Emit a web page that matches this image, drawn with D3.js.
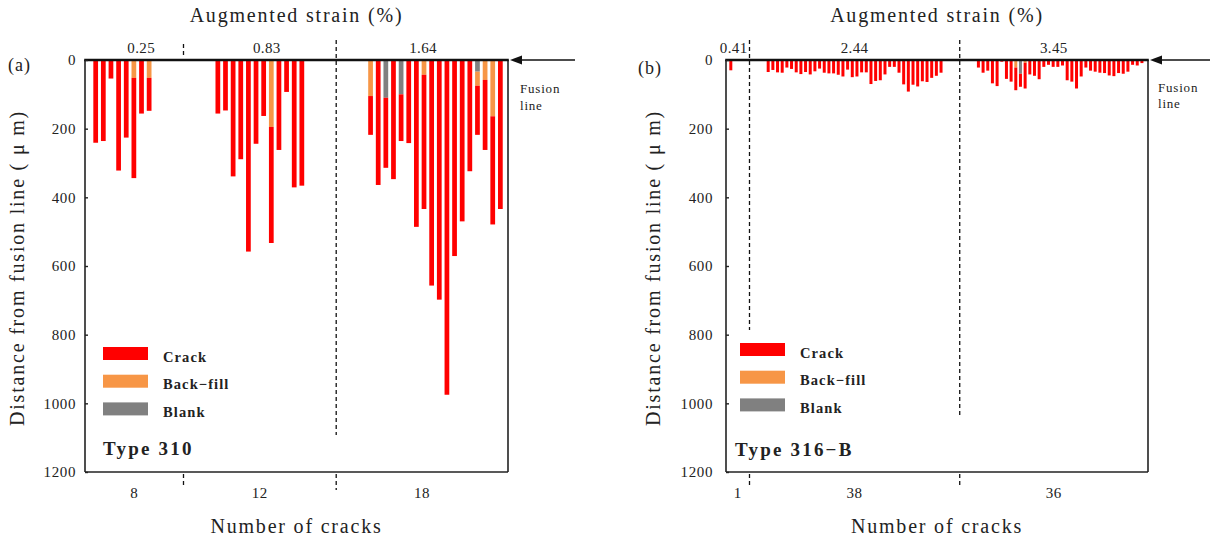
<!DOCTYPE html>
<html>
<head>
<meta charset="utf-8">
<script src="https://cdn.jsdelivr.net/npm/d3@7"></script>
<style>
  html, body { margin: 0; padding: 0; background: #fff; }
  svg { display: block; }
  text { font-family: "Liberation Serif", "DejaVu Serif", serif; fill: #222; }
</style>
</head>
<body>
<svg id="chart" width="1212" height="540"></svg>
<script>
// ---------------- DATA ----------------
const seriesNames = ["Crack", "Back\u2212fill", "Blank"];
const yTickValues = [0, 200, 400, 600, 800, 1000, 1200];

// Panel (a) Type 310
const strainA = ["0.25", "0.83", "1.64"];
const countA = ["8", "12", "18"];
// lengths (µm) of each segment, per group; stacked from fusion line: blank, back-fill, crack
const blankA = [
  [0, 0, 0, 0, 0, 0, 0, 0],
  [0, 0, 0, 0, 0, 0, 0, 0, 0, 0, 0, 0],
  [0, 0, 110, 0, 100, 0, 0, 0, 0, 0, 0, 0, 0, 0, 34, 0, 0, 0]
];
const backfillA = [
  [0, 0, 0, 0, 0, 52, 0, 52],
  [0, 0, 0, 0, 0, 0, 0, 195, 0, 0, 0, 0],
  [105, 0, 0, 0, 0, 0, 0, 43, 0, 0, 0, 0, 0, 0, 41, 58, 164, 0]
];
const crackA = [
  [241, 236, 54, 322, 226, 292, 156, 96],
  [156, 147, 339, 289, 558, 244, 163, 338, 262, 93, 371, 366],
  [113, 364, 204, 347, 136, 242, 486, 391, 657, 698, 975, 571, 470, 324, 143, 204, 315, 434]
];

// Panel (b) Type 316-B
const strainB = ["0.41", "2.44", "3.45"];
const countB = ["1", "38", "36"];
const blankB = [
  [0],
  new Array(38).fill(0),
  [0, 0, 0, 0, 0, 0, 0, 0, 0, 40, 0, 0, 0, 0, 0, 0, 0, 0, 0, 0, 0, 0, 0, 0, 0, 0, 0, 0, 0, 0, 0, 0, 0, 0, 0, 0]
];
const backfillB = [
  [0],
  new Array(38).fill(0),
  [0, 0, 0, 0, 0, 0, 0, 0, 22, 0, 8, 0, 0, 0, 0, 0, 0, 0, 0, 0, 0, 0, 0, 0, 0, 0, 0, 0, 0, 0, 0, 0, 0, 0, 0, 0]
];
const crackB = [
  [30],
  [35, 29, 36, 37, 22, 26, 36, 41, 35, 42, 33, 25, 37, 39, 39, 43, 48, 28, 50, 48,
   36, 36, 70, 61, 59, 42, 20, 20, 37, 71, 92, 72, 77, 62, 64, 52, 46, 37],
  [22, 37, 31, 68, 76, 5, 55, 63, 66, 38, 75, 42, 46, 56, 20, 14, 20, 20, 16, 59,
   63, 83, 48, 22, 31, 34, 37, 38, 45, 47, 38, 40, 34, 14, 16, 9]
];

// ---------------- STYLE / LAYOUT ----------------
const colors = { crack: "#ff0000", backfill: "#f79646", blank: "#808080" };

const panels = [
  {
    tag: "(a)", type: "Type 310",
    strain: strainA, count: countA, blank: blankA, backfill: backfillA, crack: crackA,
    left: 85, right: 508, gapSlots: 8, slotDomain: [-1.4, 54.0], barFrac: 0.62,
    strainOffset: [7, 7, 1],
    dividers: [ [[44, 57], [474, 487]], [[40, 435], [474, 490]] ],
    legendX: 103, legendY: 347, typeX: 103, typeY: 455,
    tagX: 8, tagY: 71, yTitleX: 24, tickLabelPad: 9,
    arrowX1: 575, fusionX: 520, fusionY: [93, 110]
  },
  {
    tag: "(b)", type: "Type 316\u2212B",
    strain: strainB, count: countB, blank: blankB, backfill: backfillB, crack: crackB,
    left: 726, right: 1148, gapSlots: 7, slotDomain: [-1.03, 89.3], barFrac: 0.64,
    strainOffset: [-4, 0, 0],
    dividers: [ [[40, 330], [474, 486]], [[40, 418], [474, 486]] ],
    legendX: 740, legendY: 343, typeX: 735, typeY: 456,
    tagX: 638, tagY: 74, yTitleX: 660, tickLabelPad: 13,
    arrowX1: 1210, fusionX: 1158, fusionY: [92, 108]
  }
];

const plotTop = 60, plotBottom = 472;
const svg = d3.select("#chart");

panels.forEach(p => {
  const g = svg.append("g");
  const y = d3.scaleLinear().domain([0, 1200]).range([plotTop, plotBottom]);
  const x = d3.scaleLinear().domain(p.slotDomain).range([p.left, p.right]);
  const step = x(1) - x(0);
  const bw = step * p.barFrac;

  // build bar records with slot index
  const bars = [];
  const groupRanges = [];
  let slot = 0;
  p.crack.forEach((grp, gi) => {
    const start = slot;
    grp.forEach((c, i) => {
      const bl = p.blank[gi][i], bf = p.backfill[gi][i];
      bars.push({ slot, segs: [
        { key: "blank", y0: 0, y1: bl },
        { key: "backfill", y0: bl, y1: bl + bf },
        { key: "crack", y0: bl + bf, y1: bl + bf + c }
      ]});
      slot++;
    });
    groupRanges.push([start, slot - 1]);
    slot += p.gapSlots;
  });
  const divSlots = [
    (groupRanges[0][1] + groupRanges[1][0]) / 2,
    (groupRanges[1][1] + groupRanges[2][0]) / 2
  ];
  const regions = [
    [p.slotDomain[0], divSlots[0]],
    [divSlots[0], divSlots[1]],
    [divSlots[1], p.slotDomain[1]]
  ];

  // bars
  const segs = bars.flatMap(b => b.segs.filter(s => s.y1 > s.y0).map(s => ({ ...s, slot: b.slot })));
  g.append("g").selectAll("rect").data(segs).join("rect")
    .attr("x", d => x(d.slot) - bw / 2)
    .attr("width", bw)
    .attr("y", d => y(d.y0))
    .attr("height", d => y(d.y1) - y(d.y0))
    .attr("fill", d => colors[d.key]);

  // frame
  g.append("line").attr("x1", p.left).attr("x2", p.left).attr("y1", plotTop).attr("y2", plotBottom)
    .attr("stroke", "#222").attr("stroke-width", 1.6);
  g.append("line").attr("x1", p.right).attr("x2", p.right).attr("y1", plotTop).attr("y2", plotBottom)
    .attr("stroke", "#222").attr("stroke-width", 1.6);
  g.append("line").attr("x1", p.left).attr("x2", p.right).attr("y1", plotBottom).attr("y2", plotBottom)
    .attr("stroke", "#222").attr("stroke-width", 1.6);
  g.append("line").attr("x1", p.left - 0.8).attr("x2", p.right + 0.8).attr("y1", plotTop).attr("y2", plotTop)
    .attr("stroke", "#111").attr("stroke-width", 2.6);

  // y axis ticks and labels
  const yAxis = d3.axisLeft(y).tickValues(yTickValues).tickSizeInner(-3).tickSizeOuter(0)
    .tickPadding(p.tickLabelPad).tickFormat(d3.format("d"));
  const ax = g.append("g").attr("transform", `translate(${p.left},0)`).call(yAxis);
  ax.select(".domain").remove();
  ax.selectAll(".tick line").attr("stroke", "#222").attr("stroke-width", 1.4);
  ax.selectAll(".tick text").attr("font-family", "Liberation Serif, serif")
    .attr("font-size", 15).attr("letter-spacing", 0.6).attr("fill", "#222");

  // dividers
  divSlots.forEach((s, i) => {
    p.dividers[i].forEach(([a, b]) => {
      g.append("line").attr("x1", x(s)).attr("x2", x(s)).attr("y1", a).attr("y2", b)
        .attr("stroke", "#111").attr("stroke-width", 1.3).attr("stroke-dasharray", "4,3");
    });
  });

  // strain labels (top) and crack counts (bottom)
  regions.forEach((r, i) => {
    const cx = x((r[0] + r[1]) / 2);
    g.append("text").attr("x", cx + p.strainOffset[i]).attr("y", 53).attr("text-anchor", "middle")
      .attr("font-size", 15).attr("letter-spacing", 0.4).text(p.strain[i]);
    g.append("text").attr("x", cx).attr("y", 498).attr("text-anchor", "middle")
      .attr("font-size", 15).attr("letter-spacing", 0.6).text(p.count[i]);
  });

  const midX = (p.left + p.right) / 2;
  g.append("text").attr("x", midX).attr("y", 22).attr("text-anchor", "middle")
    .attr("font-size", 20).attr("letter-spacing", 1.8).text("Augmented strain (%)");
  g.append("text").attr("x", midX).attr("y", 533).attr("text-anchor", "middle")
    .attr("font-size", 20).attr("letter-spacing", 1.8).text("Number of cracks");
  g.append("text").attr("transform", `translate(${p.yTitleX},${(plotTop + plotBottom) / 2 + 2}) rotate(-90)`)
    .attr("text-anchor", "middle").attr("font-size", 20).attr("letter-spacing", 1.8)
    .text("Distance from fusion line ( \u03bc m)");

  g.append("text").attr("x", p.tagX).attr("y", p.tagY).attr("font-size", 18)
    .attr("letter-spacing", 1).text(p.tag);

  // fusion line arrow
  g.append("line").attr("x1", p.arrowX1).attr("x2", p.right + 10).attr("y1", plotTop).attr("y2", plotTop)
    .attr("stroke", "#111").attr("stroke-width", 1.6);
  g.append("path")
    .attr("d", `M${p.right + 2},${plotTop} L${p.right + 14},${plotTop - 4.5} L${p.right + 14},${plotTop + 4.5} Z`)
    .attr("fill", "#111");
  g.append("text").attr("x", p.fusionX).attr("y", p.fusionY[0]).attr("font-size", 13)
    .attr("letter-spacing", 0.8).text("Fusion");
  g.append("text").attr("x", p.fusionX).attr("y", p.fusionY[1]).attr("font-size", 13)
    .attr("letter-spacing", 0.8).text("line");

  // legend
  const legKeys = ["crack", "backfill", "blank"];
  legKeys.forEach((k, i) => {
    const ly = p.legendY + i * 27.7;
    g.append("rect").attr("x", p.legendX).attr("y", ly).attr("width", 45).attr("height", 13)
      .attr("fill", colors[k]);
    g.append("text").attr("x", p.legendX + 60).attr("y", ly + 14.5).attr("font-size", 14.5)
      .attr("font-weight", 600).attr("letter-spacing", 1.1).attr("fill", "#111").text(seriesNames[i]);
  });
  g.append("text").attr("x", p.typeX).attr("y", p.typeY).attr("font-size", 19)
    .attr("font-weight", "bold").attr("letter-spacing", 2.2).attr("fill", "#000").text(p.type);
});
</script>
</body>
</html>
